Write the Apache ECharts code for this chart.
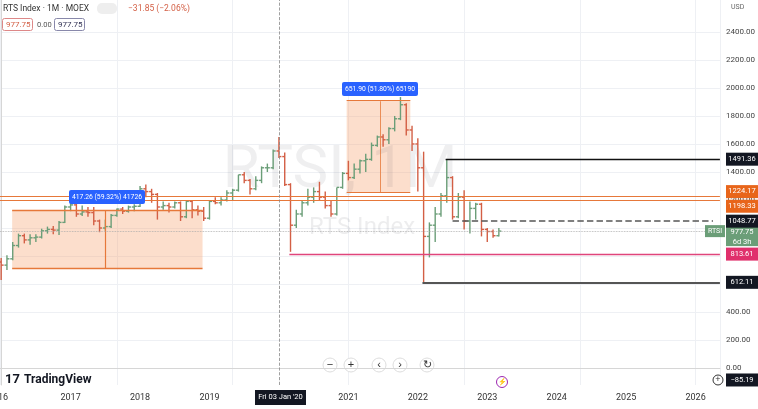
<!DOCTYPE html>
<html><head><meta charset="utf-8">
<script src="https://cdn.jsdelivr.net/npm/echarts@6/dist/echarts.min.js"></script>
<style>html,body{margin:0;padding:0;background:#fff}#c{width:758px;height:409px}</style>
</head><body><div id="c"></div>
<script>
// Monthly bars Jan 2016 .. Mar 2023
const opens = [757,735,780,875,945,915,930,935,980,990,985,1040, 1150,1165,1100,1115,1110,1050,1000,1010,1090,1135,1120,1150, 1155,1280,1260,1240,1150,1160,1150,1180,1080,1190,1130,1120, 1070,1190,1180,1200,1250,1270,1380,1340,1280,1340,1430,1430, 1550,1510,1310,1020,1100,1180,1220,1260,1220,1160,1100,1290, 1390,1360,1420,1480,1490,1590,1650,1630,1710,1780,1880,1700, 1600,1430,940,1020,1100,1230,1360,1080,1220,1050,1140,1170, 990,975,945];
const highs = [786,805,900,960,960,955,955,995,1010,1015,1050,1160, 1200,1190,1160,1150,1150,1060,1060,1100,1140,1150,1160,1170, 1300,1310,1280,1250,1190,1180,1190,1190,1200,1200,1160,1150, 1200,1220,1220,1270,1280,1380,1400,1350,1370,1440,1460,1560, 1650,1540,1320,1130,1200,1280,1290,1330,1260,1200,1290,1400, 1480,1460,1490,1530,1610,1660,1670,1720,1800,1935,1890,1730, 1640,1545,1040,1150,1250,1491,1370,1250,1270,1190,1180,1180, 1000,990,1000];
const lows = [628,700,770,860,890,880,900,925,960,955,950,1035, 1120,1080,1085,1080,1020,970,980,1000,1080,1100,1110,1120, 1150,1220,1180,1060,1130,1110,1140,1050,1070,1070,1090,1050, 1060,1170,1160,1190,1200,1260,1320,1240,1270,1320,1400,1420, 1500,1300,830,1000,1080,1160,1180,1200,1140,1080,1090,1280, 1340,1350,1390,1400,1480,1580,1580,1600,1690,1770,1660,1550, 1260,612,790,900,1080,1180,1060,1070,990,960,1060,940, 900,930,940];
const closes = [735,780,875,945,915,930,935,980,990,985,1040,1150, 1165,1100,1115,1110,1050,1000,1010,1090,1135,1120,1150,1155, 1280,1260,1240,1150,1160,1150,1180,1080,1190,1130,1120,1070, 1190,1180,1200,1250,1270,1380,1340,1280,1340,1430,1430,1550, 1510,1310,1020,1100,1180,1220,1260,1220,1160,1100,1290,1390, 1360,1420,1480,1490,1590,1650,1630,1710,1780,1880,1700,1600, 1430,940,1020,1100,1230,1360,1080,1220,1050,1140,1170,990, 975,945,977.75];
const yearLabels = ['2017','2018','2019','2020','2021','2022','2023','2024','2025','2026'];
const priceTicks = [0,200,400,600,800,1000,1200,1400,1600,1800,2000,2200,2400];
const levels = {high:1491.36, orangeA:1224.17, orangeB:1198.33, dashed:1048.77, last:977.75, pink:813.61, low:612.11};

const UP='#6b9e78', DN='#d35f45';
const data = opens.map((o,i)=>[i,o,highs[i],lows[i],closes[i]]);
const chart = echarts.init(document.getElementById('c'));
const F = 'Roboto, "Noto Sans", sans-serif';
const ml = (x1,x2,y,color,type,w)=>[{coord:[x1,y],lineStyle:{color:color,type:type,width:w}},{coord:[x2,y]}];
chart.setOption({
  animation:false,
  grid:{left:0,right:33,top:0,bottom:24},
  xAxis:{type:'value',min:-0.2,max:124.2,
    axisLine:{show:true,lineStyle:{color:'#d6d6d6'}},axisTick:{show:false},
    axisLabel:{customValues:[12,24,36,48,60,72,84,96,108,120],formatter:v=>yearLabels[v/12-1],color:'#333',fontSize:9,fontFamily:F,margin:8},
    splitLine:{show:true,lineStyle:{color:'#eef0f4'}}},
  yAxis:{type:'value',position:'right',min:-121,max:2628,
    axisLine:{show:true,lineStyle:{color:'#d6d6d6'}},axisTick:{show:false,customValues:priceTicks},
    axisLabel:{customValues:priceTicks,formatter:v=>v.toFixed(2),color:'#444',fontSize:8,fontFamily:F,margin:6},
    splitLine:{show:true,lineStyle:{color:'#eef0f4'}}},
  series:[
   {type:'line',data:[],silent:true,
    markArea:{silent:true,data:[
      [{coord:[1.9,714],itemStyle:{color:'rgba(245,160,110,0.35)'}},{coord:[34.8,1129]}],
      [{coord:[59.7,1257],itemStyle:{color:'rgba(245,160,110,0.35)'}},{coord:[70.7,1914]}]]},
    markLine:{silent:true,symbol:'none',label:{show:false},data:[
      ml(1.9,34.8,714,'#e6783a','solid',1.3), ml(1.9,34.8,1129,'#e6783a','solid',1.3),
      ml(59.7,70.7,1257,'#e6783a','solid',1), ml(59.7,70.7,1914,'#e6783a','solid',1),
      [{coord:[18,714],lineStyle:{color:'#e6783a',width:1.2,type:'solid'}},{coord:[18,1125]}],
      [{coord:[65.5,1257],lineStyle:{color:'#e6783a',width:0.8,type:'solid'}},{coord:[65.5,1905]}],
      ml(-0.2,124.2,levels.orangeA,'#e6783a','solid',1.1), ml(-0.2,124.2,levels.orangeB,'#e6783a','solid',1.1),
      ml(76.8,124.2,levels.high,'#111','solid',1.3),
      ml(78,123,levels.dashed,'#555','dashed',1.6),
      ml(-0.2,124.2,levels.last,'#aaa','dotted',0.8),
      ml(49.8,124.2,levels.pink,'#e0457b','solid',1.3),
      ml(72.8,124.2,levels.low,'#555','solid',1.8),
      [{coord:[48,-121],lineStyle:{color:'#888',type:'dashed',width:0.8}},{coord:[48,2628]}]
    ]}},
   {type:'custom',data:data,clip:true,
    renderItem:(p,api)=>{
      const x=api.value(0),o=api.value(1),h=api.value(2),l=api.value(3),c=api.value(4);
      const H=api.coord([x,h]),L=api.coord([x,l]),O=api.coord([x,o]),C=api.coord([x,c]);
      const st={stroke:c>=o?UP:DN,lineWidth:1.4};
      return {type:'group',children:[
        {type:'line',shape:{x1:H[0],y1:H[1],x2:L[0],y2:L[1]},style:st},
        {type:'line',shape:{x1:O[0]-2.5,y1:O[1],x2:O[0],y2:O[1]},style:st},
        {type:'line',shape:{x1:C[0],y1:C[1],x2:C[0]+2.5,y2:C[1]},style:st}]};
    }}
  ]
});
function Y(v){return chart.convertToPixel({yAxisIndex:0},v);}
function tag(y,txt,bg){return [{type:'rect',shape:{x:726,y:y-6.5,width:32,height:13},style:{fill:bg},z:50},
 {type:'text',x:742,y:y,style:{text:txt,fill:'#fff',fontSize:7.5,fontFamily:F,align:'center',verticalAlign:'middle'},z:51}];}
const g=[
 {type:'text',x:3,y:4,style:{text:'RTS Index · 1M · MOEX',fill:'#333',fontSize:8.5,fontFamily:F}},
 {type:'rect',shape:{x:97,y:3,width:20,height:11,r:5},style:{fill:'#eee'}},
 {type:'text',x:128,y:4,style:{text:'−31.85 (−2.06%)',fill:'#d35f45',fontSize:8.5,fontFamily:F}},
 {type:'rect',shape:{x:2.5,y:18.5,width:30,height:12,r:2},style:{fill:'#fff',stroke:'#d88'}},
 {type:'text',x:6,y:21,style:{text:'977.75',fill:'#d35f45',fontSize:8,fontFamily:F}},
 {type:'text',x:37,y:21,style:{text:'0.00',fill:'#555',fontSize:7.5,fontFamily:F}},
 {type:'rect',shape:{x:54.5,y:18.5,width:30,height:12,r:2},style:{fill:'#fff',stroke:'#88a'}},
 {type:'text',x:58,y:21,style:{text:'977.75',fill:'#335',fontSize:8,fontFamily:F}},
 {type:'text',x:731,y:4,style:{text:'USD',fill:'#666',fontSize:7,fontFamily:F}},
 {type:'text',x:340,y:172,style:{text:'RTSI, 1M',fill:'rgba(80,80,90,0.09)',fontSize:60,fontFamily:F,align:'center',verticalAlign:'middle'},z:1},
 {type:'text',x:362,y:228,style:{text:'RTS Index',fill:'rgba(80,80,90,0.1)',fontSize:24,fontFamily:F,align:'center',verticalAlign:'middle'},z:1},
 {type:'rect',shape:{x:69,y:190,width:76,height:14,r:2},style:{fill:'#2962ff'},z:40},
 {type:'text',x:107,y:197,style:{text:'417.26 (59.32%) 41726',fill:'#fff',fontSize:6.8,fontFamily:F,align:'center',verticalAlign:'middle'},z:41},
 {type:'rect',shape:{x:342,y:82,width:76,height:14,r:2},style:{fill:'#2962ff'},z:40},
 {type:'text',x:380,y:89,style:{text:'651.90 (51.80%) 65190',fill:'#fff',fontSize:6.8,fontFamily:F,align:'center',verticalAlign:'middle'},z:41},
 {type:'rect',shape:{x:705,y:Y(977.75)-6,width:20,height:12},style:{fill:'#6b9e78'},z:50},
 {type:'text',x:715,y:Y(977.75),style:{text:'RTSI',fill:'#fff',fontSize:7,fontFamily:F,align:'center',verticalAlign:'middle'},z:51},
 {type:'rect',shape:{x:726,y:Y(977.75)-6,width:32,height:21},style:{fill:'#6b9e78'},z:50},
 {type:'text',x:742,y:Y(977.75)-4,style:{text:'977.75\n6d 3h',fill:'#fff',fontSize:7.5,lineHeight:10,fontFamily:F,align:'center'},z:51},
 ...tag(Y(levels.high),'1491.36','#131722'),
 ...tag(Y(levels.orangeA)-5,'1224.17','#e8651a'),
 ...tag(Y(levels.orangeB)+6,'1198.33','#e8651a'),
 ...tag(Y(levels.dashed),'1048.77','#131722'),
 ...tag(Y(levels.pink),'813.61','#e0306c'),
 ...tag(Y(levels.low),'612.11','#131722'),
 ...tag(Y(-85.19),'−85.19','#131722'),
 {type:'circle',shape:{cx:718,cy:Y(-85.19),r:5},style:{fill:'#fff',stroke:'#333'},z:50},
 {type:'text',x:718,y:Y(-85.19),style:{text:'+',fill:'#333',fontSize:9,align:'center',verticalAlign:'middle'},z:51},
 {type:'text',x:5,y:380,style:{text:'17',fill:'#131722',fontSize:13,fontWeight:'bold',fontFamily:F,verticalAlign:'middle'}},
 {type:'text',x:24,y:380,style:{text:'TradingView',fill:'#131722',fontSize:12,fontWeight:'bold',fontFamily:F,verticalAlign:'middle'}},
 {type:'circle',shape:{cx:502,cy:382,r:5.5},style:{fill:'#fff',stroke:'#9c27b0'}},
 {type:'text',x:502,y:382,style:{text:'⚡',fill:'#9c27b0',fontSize:7,align:'center',verticalAlign:'middle'}},
 {type:'rect',shape:{x:255,y:390,width:51,height:15},style:{fill:'#131722'},z:50},
 {type:'text',x:280.5,y:397.5,style:{text:"Fri 03 Jan '20",fill:'#fff',fontSize:7.5,fontFamily:F,align:'center',verticalAlign:'middle'},z:51},
 {type:'text',x:-2,y:398,style:{text:'16',fill:'#333',fontSize:9,fontFamily:F,verticalAlign:'middle'}}
];
[['−',330],['+',351],['‹',379],['›',400],['↻',427]].forEach(([s,x])=>{
 g.push({type:'circle',shape:{cx:x,cy:365,r:7},style:{fill:'#fff',stroke:'#ddd'}});
 g.push({type:'text',x:x,y:365,style:{text:s,fill:'#333',fontSize:11,align:'center',verticalAlign:'middle'}});
});
chart.setOption({graphic:g});
</script></body></html>
